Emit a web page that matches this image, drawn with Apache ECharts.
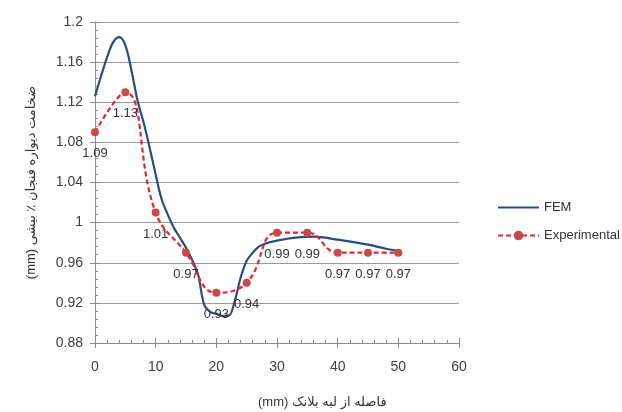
<!DOCTYPE html>
<html>
<head>
<meta charset="utf-8">
<script src="https://cdn.jsdelivr.net/npm/echarts@6/dist/echarts.min.js"></script>
<style>
html,body{margin:0;padding:0;background:#fff;}
#chart{width:622px;height:412px;}
</style>
</head>
<body>
<div id="chart"></div>
<script>
// Experimental measurements
const expX = [0, 5, 10, 15, 20, 25, 30, 35, 40, 45, 50];
const expY = [1.09, 1.13, 1.01, 0.97, 0.93, 0.94, 0.99, 0.99, 0.97, 0.97, 0.97];
// FEM curve
const femX = [0, 1, 2, 3, 4, 5, 6, 7, 8, 9, 10, 11, 12, 13, 14, 15, 16, 17, 18, 19, 20, 21, 22, 23, 24, 25, 26, 27, 28, 30, 33, 36, 40, 45, 48, 50];
const femY = [1.126, 1.146, 1.165, 1.180, 1.185, 1.177, 1.152, 1.122, 1.100, 1.075, 1.048, 1.023, 1.008, 0.995, 0.985, 0.975, 0.963, 0.948, 0.918, 0.911, 0.909, 0.907, 0.907, 0.921, 0.945, 0.962, 0.970, 0.976, 0.979, 0.982, 0.985, 0.986, 0.983, 0.978, 0.974, 0.972];
const yTicks = ['0.88', '0.92', '0.96', '1', '1.04', '1.08', '1.12', '1.16', '1.2'];
const xTitle = '(mm) فاصله از لبه بلانک';
const yTitle = '(mm) ضخامت دیواره فنجان ٪ بیشی';

const FONT = 'Liberation Sans, DejaVu Sans, sans-serif';
const femData = femX.map((x, i) => [x, femY[i]]);
const expData = expX.map((x, i) => [x, expY[i]]);

const chart = echarts.init(document.getElementById('chart'), null, {renderer: 'canvas'});
const axisGray = '#8a8a8a';
chart.setOption({
  animation: false,
  backgroundColor: '#fff',
  grid: {left: 95, right: 163, top: 22, bottom: 69},
  legend: {
    orient: 'vertical', left: 492, top: 196, itemWidth: 41, itemHeight: 12, itemGap: 15,
    textStyle: {fontFamily: FONT, fontSize: 13, color: '#333'},
    data: [
      {name: 'FEM', icon: 'path://M0,0 L41,0 L41,2.2 L0,2.2 Z'},
      {name: 'Experimental'}
    ]
  },
  xAxis: [{
    type: 'value', min: 0, max: 60, interval: 10,
    axisLine: {show: true, lineStyle: {color: axisGray}},
    axisTick: {show: true, inside: false, length: 5, lineStyle: {color: axisGray}},
    axisLabel: {fontFamily: FONT, fontSize: 14, color: '#404040', margin: 17},
    splitLine: {show: false}
  }, {
    type: 'value', min: 0, max: 60, interval: 10, position: 'bottom',
    axisLine: {show: false},
    axisTick: {show: true, inside: true, length: 5, lineStyle: {color: axisGray}},
    minorTick: {show: true, splitNumber: 5, length: 3, lineStyle: {color: axisGray}},
    axisLabel: {show: false},
    splitLine: {show: false}
  }],
  yAxis: [{
    type: 'value', min: 0.88, max: 1.2, interval: 0.04,
    name: yTitle, nameLocation: 'middle', nameGap: 57,
    nameTextStyle: {fontFamily: FONT, fontSize: 13, color: '#333'},
    axisLine: {show: true, lineStyle: {color: axisGray}},
    axisTick: {show: true, inside: false, length: 5, lineStyle: {color: axisGray}},
    axisLabel: {fontFamily: FONT, fontSize: 14, color: '#404040', margin: 12,
      formatter: v => { const s = yTicks.find(t => Math.abs(parseFloat(t) - v) < 1e-6); return s !== undefined ? s : ''; }},
    splitLine: {show: true, lineStyle: {color: '#999', width: 1}}
  }, {
    type: 'value', min: 0.88, max: 1.2, interval: 0.04, position: 'left',
    axisLine: {show: false},
    axisTick: {show: true, inside: true, length: 5, lineStyle: {color: axisGray}},
    minorTick: {show: true, splitNumber: 5, length: 3, lineStyle: {color: axisGray}},
    axisLabel: {show: false},
    splitLine: {show: false}
  }],
  series: [{
    name: 'FEM', type: 'line', data: femData, smooth: 0.35,
    showSymbol: false, symbol: 'none',
    lineStyle: {color: '#2B4C7E', width: 2.2},
    itemStyle: {color: '#2B4C7E'},
    z: 3
  }, {
    name: 'Experimental', type: 'line', data: expData, smooth: 0.45,
    symbol: 'circle', symbolSize: 8, showSymbol: true,
    lineStyle: {color: '#E5262B', width: 2.2, type: [5, 3]},
    itemStyle: {color: '#C8494A'},
    label: {show: true, position: 'bottom', distance: 11, fontFamily: FONT, fontSize: 13, color: '#333',
      formatter: p => p.value[1].toFixed(2)},
    z: 4
  }],
  graphic: [{
    type: 'text', left: 258, top: 396,
    style: {text: xTitle, font: '13px ' + FONT, fill: '#333'}
  }]
});
</script>
</body>
</html>
